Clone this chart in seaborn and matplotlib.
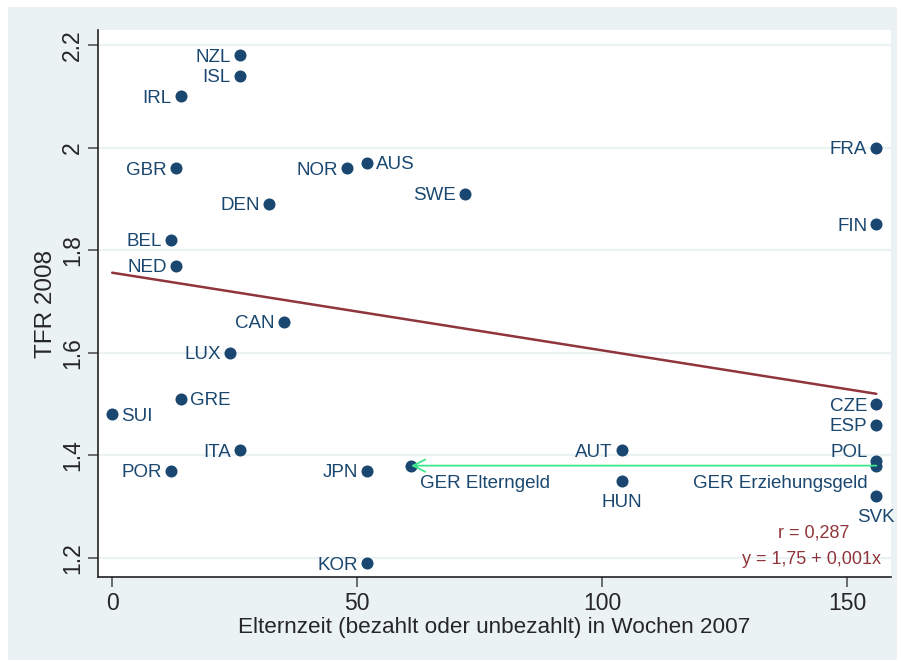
import numpy as np
import pandas as pd
import seaborn as sns
import matplotlib.pyplot as plt
from matplotlib.patches import Rectangle

# data
countries = ["NZL", "ISL", "IRL", "GBR", "NOR", "AUS", "SWE", "DEN", "FRA", "FIN",
             "BEL", "NED", "CAN", "LUX", "GRE", "SUI", "ITA", "POR", "JPN",
             "GER Elterngeld", "AUT", "HUN", "KOR", "CZE", "ESP", "POL",
             "GER Erziehungsgeld", "SVK"]
weeks = [26, 26, 14, 13, 48, 52, 72, 32, 156, 156,
         12, 13, 35, 24, 14, 0, 26, 12, 52,
         61, 104, 104, 52, 156, 156, 156,
         156, 156]
tfr = [2.18, 2.14, 2.10, 1.96, 1.96, 1.97, 1.91, 1.89, 2.00, 1.85,
       1.82, 1.77, 1.66, 1.60, 1.51, 1.48, 1.41, 1.37, 1.37,
       1.38, 1.41, 1.35, 1.19, 1.50, 1.46, 1.39,
       1.38, 1.32]
# label position (clock, like Stata mlabposition)
label_pos = [9, 9, 9, 9, 9, 3, 9, 9, 9, 9,
             9, 9, 9, 9, 3, 3, 9, 9, 9,
             4, 9, 6, 9, 9, 9, 10,
             7, 6]

fit_x = [0, 156]
fit_y = [1.756, 1.52]

arrow_from = (156, 1.38)
arrow_to = (61, 1.38)

x_ticks = [0, 50, 100, 150]
y_ticks = [1.2, 1.4, 1.6, 1.8, 2.0, 2.2]
y_ticklabels = ["1.2", "1.4", "1.6", "1.8", "2", "2.2"]

df = pd.DataFrame({"country": countries, "weeks": weeks, "tfr": tfr, "pos": label_pos})

navy = "#1a476f"
maroon = "#90353b"
bg = "#eaf2f3"

sns.set_style("white")
plt.rcParams["font.family"] = ["Liberation Sans", "DejaVu Sans"]

fig = plt.figure(figsize=(9.01, 6.62), dpi=100)
fig.patch.set_facecolor("white")
fig.patches.append(Rectangle((8 / 901, 2 / 662), 889 / 901, 653 / 662,
                             transform=fig.transFigure, facecolor=bg,
                             edgecolor="none", zorder=-10))
ax = fig.add_axes([98 / 901, 1 - 577 / 662, 793 / 901, 547 / 662])
ax.set_facecolor("white")

for yt in y_ticks:
    ax.axhline(yt, color=bg, lw=1.6, zorder=1)

sns.lineplot(x=fit_x, y=fit_y, color=maroon, lw=1.8, ax=ax, zorder=2)

sns.scatterplot(data=df, x="weeks", y="tfr", color=navy, s=75,
                edgecolor=navy, linewidth=0, ax=ax, zorder=3)

offsets = {9: (-9, 0, "right"),
           3: (9, 0, "left"),
           4: (9, -16, "left"),
           6: (0, -19, "center"),
           7: (-9, -16, "right"),
           10: (-8, 10, "right")}
for _, r in df.iterrows():
    dx, dy, ha = offsets[r["pos"]]
    ax.annotate(r["country"], (r["weeks"], r["tfr"]), xytext=(dx, dy),
                textcoords="offset pixels", ha=ha, va="center_baseline",
                color=navy, fontsize=13.5, zorder=4)

ax.annotate("", xy=arrow_to, xytext=arrow_from,
            arrowprops=dict(arrowstyle="->", color="#3de88a", lw=1.3,
                            mutation_scale=22, shrinkA=0, shrinkB=0),
            zorder=5)

ax.text(0.902, 0.085, "r = 0,287", transform=ax.transAxes, ha="center",
        va="center_baseline", color=maroon, fontsize=13)
ax.text(0.987, 0.035, "y = 1,75 + 0,001x", transform=ax.transAxes, ha="right",
        va="center_baseline", color=maroon, fontsize=13)

ax.set_xlim(-2.9, 159)
ax.set_ylim(1.163, 2.229)
ax.set_xticks(x_ticks)
ax.set_yticks(y_ticks)
ax.set_yticklabels(y_ticklabels, rotation=90, va="center")
ax.tick_params(axis="both", direction="out", length=7, width=1.2,
               color="#555555", labelsize=16.5, left=True, bottom=True)
ax.tick_params(axis="y", pad=3)

for s in ["top", "right"]:
    ax.spines[s].set_visible(False)
for s in ["left", "bottom"]:
    ax.spines[s].set_color("#222222")
    ax.spines[s].set_linewidth(1.2)

ax.set_xlabel("Elternzeit (bezahlt oder unbezahlt) in Wochen 2007", fontsize=16.2, labelpad=2)
ax.set_ylabel("TFR 2008", fontsize=17.5, labelpad=3)

fig.savefig("out.png", dpi=100, facecolor=fig.get_facecolor())
